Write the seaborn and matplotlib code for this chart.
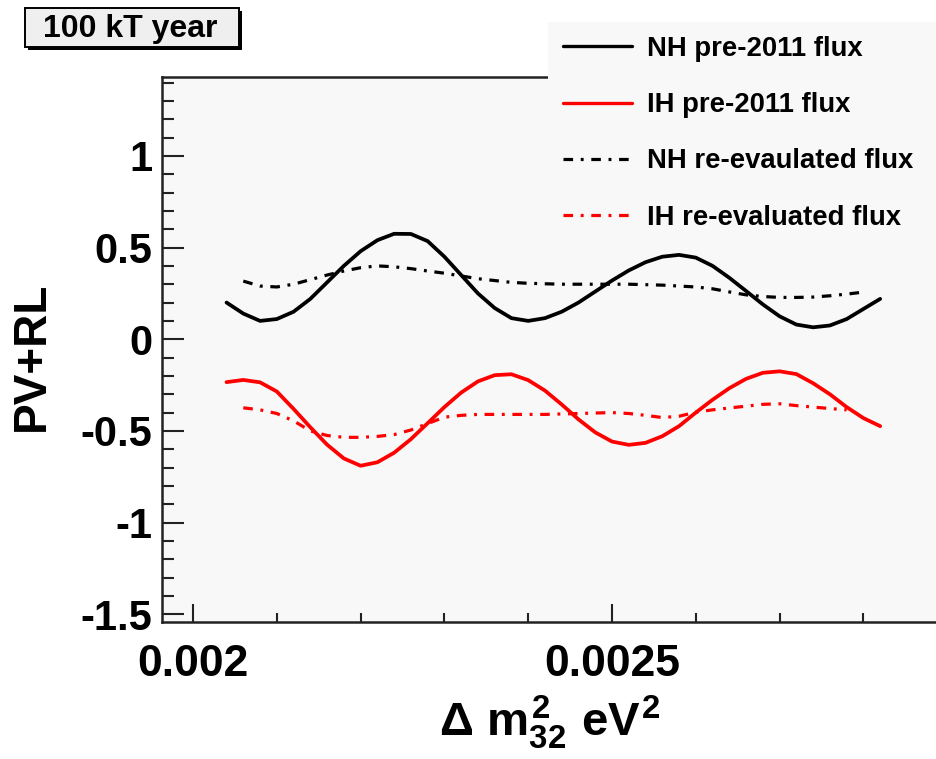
import matplotlib
matplotlib.use("Agg")
import numpy as np
import pandas as pd
import matplotlib.pyplot as plt
from matplotlib.patches import Rectangle
from matplotlib.lines import Line2D
from matplotlib.ticker import MultipleLocator, FixedLocator, FixedFormatter
import seaborn as sns

sns.set_theme(style="ticks")
plt.rcParams["font.family"] = ["Liberation Sans", "DejaVu Sans"]
plt.rcParams["font.weight"] = "bold"
plt.rcParams["text.color"] = "black"
plt.rcParams["axes.labelcolor"] = "black"
plt.rcParams["xtick.color"] = "black"
plt.rcParams["ytick.color"] = "black"
plt.rcParams["mathtext.fontset"] = "custom"
plt.rcParams["mathtext.rm"] = "Liberation Sans:bold"
plt.rcParams["mathtext.it"] = "Liberation Sans:bold"
plt.rcParams["mathtext.bf"] = "Liberation Sans:bold"

# ---- data: PV+RL sensitivity vs. delta m^2_32 (eV^2) ------------------------
pre_x = [0.00204, 0.00206, 0.00208, 0.00210, 0.00212, 0.00214, 0.00216, 0.00218,
         0.00220, 0.00222, 0.00224, 0.00226, 0.00228, 0.00230, 0.00232, 0.00234,
         0.00236, 0.00238, 0.00240, 0.00242, 0.00244, 0.00246, 0.00248, 0.00250,
         0.00252, 0.00254, 0.00256, 0.00258, 0.00260, 0.00262, 0.00264, 0.00266,
         0.00268, 0.00270, 0.00272, 0.00274, 0.00276, 0.00278, 0.00280, 0.00282]
nh_pre_y = [0.20, 0.14, 0.10, 0.11, 0.15, 0.22, 0.31, 0.40,
            0.48, 0.54, 0.575, 0.574, 0.535, 0.45, 0.35, 0.25,
            0.17, 0.115, 0.10, 0.115, 0.15, 0.20, 0.26, 0.32,
            0.375, 0.42, 0.45, 0.46, 0.445, 0.40, 0.335, 0.263,
            0.19, 0.125, 0.08, 0.065, 0.075, 0.11, 0.165, 0.22]
ih_pre_y = [-0.234, -0.222, -0.235, -0.285, -0.38, -0.48, -0.575, -0.65,
            -0.69, -0.671, -0.619, -0.545, -0.458, -0.370, -0.291, -0.230,
            -0.196, -0.191, -0.223, -0.28, -0.356, -0.437, -0.508, -0.558,
            -0.576, -0.565, -0.529, -0.474, -0.40, -0.33, -0.267, -0.216,
            -0.183, -0.175, -0.19, -0.24, -0.30, -0.37, -0.43, -0.474]

nh_new_x = [0.00206, 0.00208, 0.00210, 0.00212, 0.00214, 0.00216, 0.00218, 0.00220,
            0.00222, 0.00224, 0.00226, 0.00228, 0.00230, 0.00232, 0.00234, 0.00236,
            0.00238, 0.00240, 0.00244, 0.00248, 0.00252, 0.00256, 0.00260, 0.00262,
            0.00264, 0.00266, 0.00268, 0.00270, 0.00272, 0.00274, 0.00276, 0.00278,
            0.00280]
nh_new_y = [0.317, 0.29, 0.285, 0.30, 0.325, 0.35, 0.372, 0.39,
            0.40, 0.395, 0.385, 0.372, 0.36, 0.345, 0.33, 0.32,
            0.31, 0.305, 0.30, 0.30, 0.30, 0.295, 0.285, 0.275,
            0.258, 0.242, 0.233, 0.228, 0.228, 0.23, 0.237, 0.246,
            0.257]

ih_new_x = [0.00206, 0.00208, 0.00210, 0.00212, 0.00214, 0.00216, 0.00218, 0.00220,
            0.00222, 0.00224, 0.00226, 0.00228, 0.00230, 0.00232, 0.00234, 0.00238,
            0.00242, 0.00246, 0.00250, 0.00252, 0.00254, 0.00256, 0.00258, 0.00260,
            0.00262, 0.00264, 0.00266, 0.00268, 0.00270, 0.00272, 0.00274, 0.00276,
            0.00278]
ih_new_y = [-0.374, -0.385, -0.405, -0.445, -0.50, -0.525, -0.535, -0.535,
            -0.53, -0.52, -0.495, -0.46, -0.425, -0.415, -0.41, -0.41,
            -0.41, -0.405, -0.40, -0.405, -0.415, -0.427, -0.42, -0.398,
            -0.385, -0.375, -0.365, -0.355, -0.352, -0.362, -0.37, -0.378,
            -0.385]

series_labels = ["NH pre-2011 flux", "IH pre-2011 flux",
                 "NH re-evaulated flux", "IH re-evaluated flux"]
x_major = [0.002, 0.0025, 0.003]
x_major_labels = ["0.002", "0.0025", "0.003"]
y_major = [-1.5, -1.0, -0.5, 0.0, 0.5, 1.0]
y_major_labels = ["-1.5", "-1", "-0.5", "0", "0.5", "1"]

# ---- figure geometry (pixel helpers) -------------------------------------
W, H = 936, 759
fig = plt.figure(figsize=(W / 100, H / 100), dpi=100, facecolor="white")


def fx(px):
    return px / W


def fy(py):
    return 1 - py / H


ax_left, ax_right, ax_top, ax_bottom = 162, 964, 77, 622
ax = fig.add_axes([fx(ax_left), fy(ax_bottom),
                   fx(ax_right) - fx(ax_left), fy(ax_top) - fy(ax_bottom)])
ax.set_facecolor("#f8f8f8")

solid_lw = 2.7
dash_lw = 2.3
dashdot = (0, (3.0, 2.4, 0.9, 2.4))

curves = [
    (pre_x, nh_pre_y, "black", "-", solid_lw),
    (pre_x, ih_pre_y, "#ff0000", "-", solid_lw),
    (nh_new_x, nh_new_y, "black", dashdot, dash_lw),
    (ih_new_x, ih_new_y, "#ff0000", dashdot, dash_lw),
]
handles = []
for (xs, ys, col, ls, lw), lab in zip(curves, series_labels):
    df = pd.DataFrame({"dm2": xs, "val": ys})
    sns.lineplot(data=df, x="dm2", y="val", ax=ax, color=col, linestyle=ls,
                 linewidth=lw, sort=False, estimator=None, legend=False)
    handles.append(Line2D([], [], color=col, linestyle=ls,
                          linewidth=min(lw, 2.4), label=lab))

ax.set_xlim(0.001963, 0.001963 + (ax_right - ax_left) / 838000)
ax.set_ylim(-1.542, 1.43)
ax.set_xlabel("")
ax.set_ylabel("")

ax.xaxis.set_major_locator(FixedLocator(x_major))
ax.xaxis.set_major_formatter(FixedFormatter(x_major_labels))
ax.xaxis.set_minor_locator(MultipleLocator(0.0001))
ax.yaxis.set_major_locator(FixedLocator(y_major))
ax.yaxis.set_major_formatter(FixedFormatter(y_major_labels))
ax.yaxis.set_minor_locator(MultipleLocator(0.1))

ax.tick_params(axis="both", which="both", direction="in", color="#222222",
               width=1.5, top=False, right=False)
ax.tick_params(axis="y", which="major", length=16, labelsize=30, pad=7)
ax.tick_params(axis="y", which="minor", length=8.5)
ax.tick_params(axis="x", which="major", length=13, labelsize=32, pad=16)
ax.tick_params(axis="x", which="minor", length=6.5)
for lab in ax.get_xticklabels() + ax.get_yticklabels():
    lab.set_fontweight("bold")

for side in ["left", "bottom", "top"]:
    ax.spines[side].set_visible(True)
    ax.spines[side].set_linewidth(1.8)
    ax.spines[side].set_color("#222222")
ax.spines["right"].set_visible(False)

# axis titles
fig.text(fx(32), fy(356), "PV+RL", rotation=90, ha="center", va="center",
         fontsize=33, fontweight="bold")
fig.text(fx(550), fy(722), r"$\Delta\ m^{2}_{32}\ eV^{2}$", ha="center",
         va="center", fontsize=34)

# exposure box with drop shadow
bx0, bx1, by0, by1 = 25, 239, 8, 47
fig.patches.append(Rectangle((fx(bx0 + 3), fy(by1 + 3)), fx(bx1) - fx(bx0),
                             fy(by0) - fy(by1), transform=fig.transFigure,
                             facecolor="black", edgecolor="none", zorder=2))
fig.patches.append(Rectangle((fx(bx0), fy(by1)), fx(bx1) - fx(bx0),
                             fy(by0) - fy(by1), transform=fig.transFigure,
                             facecolor="#efefef", edgecolor="black",
                             linewidth=1.4, zorder=3))
fig.text(fx((bx0 + bx1) / 2 - 2), fy((by0 + by1) / 2 + 1), "100 kT year",
         ha="center", va="center", fontsize=23, fontweight="bold", zorder=4)

# legend panel
fig.patches.append(Rectangle((fx(548), fy(240)), 1.0, fy(22) - fy(240),
                             transform=fig.transFigure, facecolor="#f8f8f8",
                             edgecolor="none", zorder=2))
fig.legend(handles=handles, loc="upper left",
           bbox_to_anchor=(fx(563), fy(36)), frameon=False,
           handlelength=2.5, handletextpad=0.55, labelspacing=1.1,
           borderpad=0, borderaxespad=0, prop={"weight": "bold", "size": 19.8})

fig.savefig("out.png", dpi=100, facecolor="white")
